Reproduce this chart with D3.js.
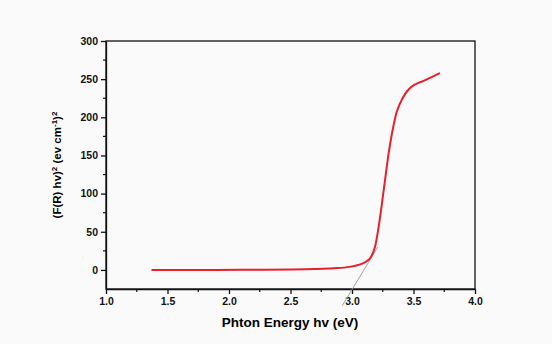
<!DOCTYPE html>
<html>
<head>
<meta charset="utf-8">
<script src="https://cdn.jsdelivr.net/npm/d3@7"></script>
<style>
  body { margin: 0; background: #fafafa; }
  svg { display: block; font-family: "Liberation Sans", Arial, sans-serif; }
  .axis text { font-size: 10.5px; font-weight: bold; fill: #111; }
  .axis path, .axis line { stroke: #111; stroke-width: 1.3; }
</style>
</head>
<body>
<script>
// curve: photon energy (eV) vs (F(R) hv)^2
var energy = [1.37, 1.6, 1.9, 2.2, 2.5, 2.7, 2.85, 2.98, 3.05, 3.10, 3.15, 3.19, 3.22, 3.25, 3.276, 3.29, 3.31, 3.336, 3.36, 3.39, 3.43, 3.47, 3.6, 3.715];
var signal = [0, 0, 0, 0.3, 0.6, 1.2, 2.2, 4, 6.5, 9.5, 16, 32, 60, 95, 127, 144, 165, 188, 205, 218, 230, 238, 249, 258];
// grey tangent line (extrapolation to the band gap)
var tangentX = [2.92, 3.21];
var tangentY = [-47, 30];
var xTicks = [1.0, 1.5, 2.0, 2.5, 3.0, 3.5, 4.0];
var yTicks = [0, 50, 100, 150, 200, 250, 300];

(function () {
    var width = 552, height = 344,
        left = 106, right = 475, top = 41, bottom = 289;

    var x = d3.scaleLinear().domain([1, 4]).range([left, right]),
        y = d3.scaleLinear().domain([-25, 300]).range([bottom, top]);

    var svg = d3.select("body").append("svg")
        .attr("width", width)
        .attr("height", height);

    // frame
    svg.append("rect")
        .attr("x", left).attr("y", top)
        .attr("width", right - left).attr("height", bottom - top)
        .attr("fill", "none").attr("stroke", "#111").attr("stroke-width", 1.3);

    // minor ticks
    var xMinor = d3.range(1.25, 4, 0.5);
    var yMinor = [25, 75, 125, 175, 225, 275];
    svg.append("g").selectAll("line").data(xMinor).enter().append("line")
        .attr("x1", function (d) { return x(d); }).attr("x2", function (d) { return x(d); })
        .attr("y1", bottom).attr("y2", bottom + 3)
        .attr("stroke", "#111").attr("stroke-width", 1.2);
    svg.append("g").selectAll("line").data(yMinor).enter().append("line")
        .attr("y1", function (d) { return y(d); }).attr("y2", function (d) { return y(d); })
        .attr("x1", left).attr("x2", left - 3)
        .attr("stroke", "#111").attr("stroke-width", 1.2);

    var xAxis = d3.axisBottom(x).tickValues(xTicks).tickFormat(d3.format(".1f"))
        .tickSize(5).tickSizeOuter(0).tickPadding(4);
    var yAxis = d3.axisLeft(y).tickValues(yTicks).tickFormat(d3.format("d"))
        .tickSize(5).tickSizeOuter(0).tickPadding(3);

    svg.append("g").attr("class", "axis")
        .attr("transform", "translate(0," + bottom + ")")
        .call(xAxis);
    svg.append("g").attr("class", "axis")
        .attr("transform", "translate(" + left + ",0)")
        .call(yAxis);

    // tangent
    var tangent = tangentX.map(function (d, i) { return { x: d, y: tangentY[i] }; });
    svg.append("path")
        .datum(tangent)
        .attr("fill", "none").attr("stroke", "#999").attr("stroke-width", 0.9)
        .attr("d", d3.line().x(function (d) { return x(d.x); }).y(function (d) { return y(d.y); }));

    // curve
    var data = energy.map(function (d, i) { return { x: d, y: signal[i] }; });
    var line = d3.line()
        .x(function (d) { return x(d.x); })
        .y(function (d) { return y(d.y); })
        .curve(d3.curveMonotoneX);
    svg.append("path")
        .datum(data)
        .attr("fill", "none").attr("stroke", "#e8202c").attr("stroke-width", 2)
        .attr("d", line);

    // axis titles
    svg.append("text")
        .attr("x", 290).attr("y", 327)
        .attr("text-anchor", "middle")
        .style("font-size", "13.5px").style("font-weight", "bold")
        .text("Phton Energy hv (eV)");

    var yl = svg.append("text")
        .attr("transform", "translate(61," + ((top + bottom) / 2) + ") rotate(-90)")
        .attr("text-anchor", "middle")
        .style("font-size", "11.5px").style("font-weight", "bold");
    yl.append("tspan").text("(F(R) hv)");
    yl.append("tspan").attr("dy", -4).style("font-size", "8px").text("2");
    yl.append("tspan").attr("dy", 4).text(" (ev cm");
    yl.append("tspan").attr("dy", -4).style("font-size", "8px").text("-1");
    yl.append("tspan").attr("dy", 4).text(")");
    yl.append("tspan").attr("dy", -4).style("font-size", "8px").text("2");
})();
</script>
</body>
</html>
